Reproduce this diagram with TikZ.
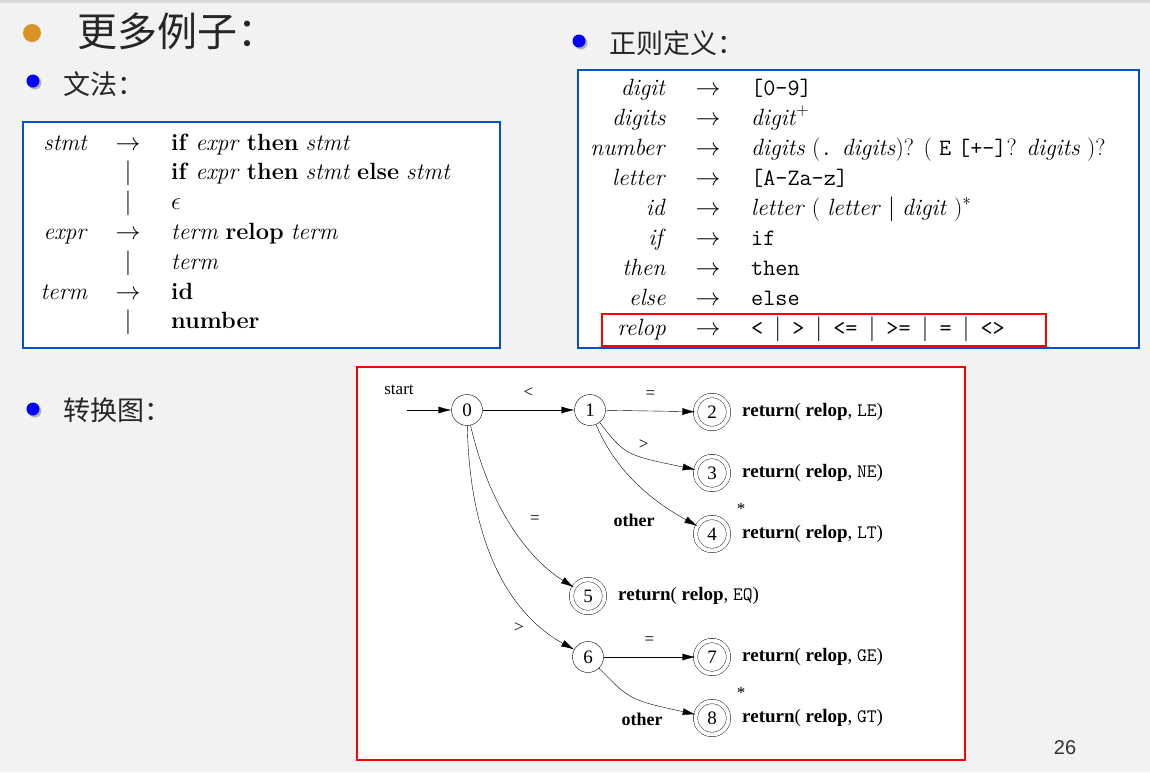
\documentclass[tikz,border=0pt]{standalone}
\usepackage{fontspec}
\newfontfamily\cjk{Noto Sans CJK SC}
\newfontfamily\timesf{Liberation Serif}
\newfontfamily\sansf{Liberation Sans}
\usetikzlibrary{arrows.meta}
\begin{document}
\begin{tikzpicture}[x=1pt,y=-1pt,
  state/.style={circle, draw, minimum size=31pt, inner sep=0pt, font=\timesf\fontsize{19}{19}\selectfont},
  accept/.style={state, double, double distance=4pt, minimum size=33pt},
  edge/.style={-{Latex[length=13pt,width=7pt]}, thin},
  lab/.style={font=\timesf\fontsize{17}{17}\selectfont},
  blab/.style={font=\timesf\bfseries\fontsize{18}{18}\selectfont},
  ret/.style={anchor=west, font=\timesf\fontsize{19}{19}\selectfont},
  gram/.style={font=\fontsize{23.5}{23.5}\selectfont, inner sep=0pt},
  cjkt/.style={font=\cjk\fontsize{27}{27}\selectfont, anchor=west, text=black!85}]
  \fill[black!5] (0,0) rectangle (1150,772);
  \useasboundingbox (0,0) rectangle (1150,772);
  \fill[black!15] (0,0) rectangle (1150,3);
  % headings
  \fill[yellow!60!red!85!black] (32,33) circle (9);
  \node[cjkt, font=\cjk\fontsize{40}{40}\selectfont] (title) at (74,31) {更多例子：};
  \foreach \bx/\by in {33/81, 579/41, 33/409} {
    \fill[black!30] (\bx+2,\by+2) circle (6.5);
    \fill[blue] (\bx,\by) circle (6.5);
  }
  \node[cjkt] (gramhead) at (60,84) {文法：};
  \node[cjkt] (rehead) at (606,43) {正则定义：};
  \node[cjkt] (tghead) at (60,410) {转换图：};
  \node[font=\sansf\fontsize{20}{20}\selectfont, text=black!80] (page) at (1065,748) {26};
  % grammar
  \draw[blue!60!cyan!80!black, line width=1.5pt, fill=white] (23,122) rectangle (500,348);
  \foreach \y/\l/\a/\r in {143/stmt/$\rightarrow$/{\textbf{if} \textit{expr} \textbf{then} \textit{stmt}},
      172//$|$/{\textbf{if} \textit{expr} \textbf{then} \textit{stmt} \textbf{else} \textit{stmt}},
      202//$|$/{$\epsilon$},
      232/expr/$\rightarrow$/{\textit{term} \textbf{relop} \textit{term}},
      262//$|$/{\textit{term}},
      292/term/$\rightarrow$/{\textbf{id}},
      321//$|$/{\textbf{number}}} {
    \node[gram, anchor=base east] at (88,\y+7) {\textit{\l}};
    \node[gram, anchor=base] at (128,\y+7) {\a};
    \node[gram, anchor=base west] at (171,\y+7) {\r};
  }
  % regular definitions
  \draw[blue!60!cyan!80!black, line width=1.5pt, fill=white] (578,70) rectangle (1139,348);
  \foreach \y/\l/\r in {88/digit/{\texttt{[0-9]}},
      118/digits/{\textit{digit}$^+$},
      148/number/{\textit{digits} (\texttt{.} \textit{digits})? ( \texttt{E} \texttt{[+-]}? \textit{digits} )?},
      178/letter/{\texttt{[A-Za-z]}},
      208/id/{\textit{letter} ( \textit{letter} $|$ \textit{digit} )$^*$},
      238/if/{\texttt{if}},
      268/then/{\texttt{then}},
      298/else/{\texttt{else}},
      328/relop/{\texttt{<} \,$|$\, \texttt{>} \,$|$\, \texttt{<=} \,$|$\, \texttt{>=} \,$|$\, \texttt{=} \,$|$\, \texttt{<>}}} {
    \node[gram, anchor=base east] at (666,\y+7) {\textit{\l}};
    \node[gram, anchor=base] at (708,\y+7) {$\rightarrow$};
    \node[gram, anchor=base west] at (751,\y+7) {\r};
  }
  \draw[red, line width=2pt] (602,314) rectangle (1046,346);
  % transition diagram
  \draw[red, line width=1.8pt, fill=white] (357,367) rectangle (965,760);
  \node[state] (s0) at (467,410) {0};
  \node[state] (s1) at (590,410) {1};
  \node[accept] (s2) at (712,412) {2};
  \node[accept] (s3) at (712,473) {3};
  \node[accept] (s4) at (712,534) {4};
  \node[accept] (s5) at (588,596) {5};
  \node[state] (s6) at (588,657) {6};
  \node[accept] (s7) at (712,657) {7};
  \node[accept] (s8) at (712,718) {8};
  \coordinate (in) at (407,410);
  \node[lab] (startlab) at (399,390) {start};
  \draw[edge] (in) -- (s0);
  \draw[edge] (s0) -- node[lab, above=9pt] {<} (s1);
  \draw[edge] (s1) -- node[lab, above=9pt] {=} (s2);
  \draw[edge] (s1) .. controls (625,455) .. node[lab, pos=0.55, above right=1pt] {>} (s3);
  \draw[edge] (s1) .. controls (615,470) and (650,500) .. (s4);
  \node[blab] (oth4) at (634,520) {other};
  \draw[edge] (s0) .. controls (490,510) and (530,560) .. (s5);
  \node[lab] (eq5) at (535,520) {=};
  \draw[edge] (s0) .. controls (470,560) and (520,620) .. (s6);
  \node[lab] (gt6) at (519,628) {>};
  \draw[edge] (s6) -- node[lab, above=9pt] {=} (s7);
  \draw[edge] (s6) .. controls (630,700) .. (s8);
  \node[blab] (oth8) at (642,719) {other};
  \node[lab] (st4) at (741,509) {*};
  \node[lab] (st8) at (741,693) {*};
  \foreach \n/\c in {s2/LE, s3/NE, s4/LT, s5/EQ, s7/GE, s8/GT}
    \node[ret] at ([xshift=10pt]\n.east) {\textbf{return}( \textbf{relop}, \texttt{\c})};
\end{tikzpicture}
\end{document}
